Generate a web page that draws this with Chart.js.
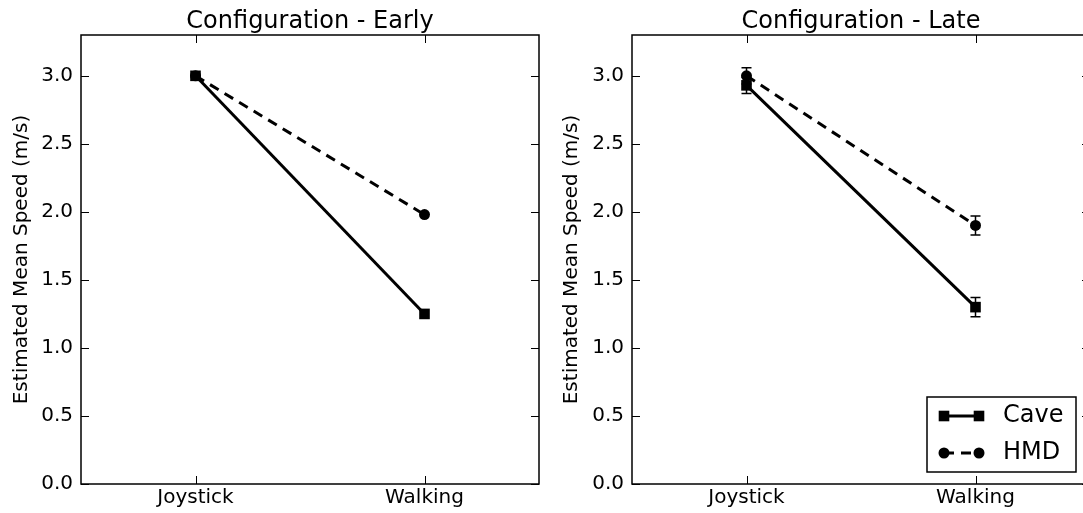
<!DOCTYPE html>
<html>
<head>
<meta charset="utf-8">
<script src="https://cdn.jsdelivr.net/npm/chart.js@4.4.0/dist/chart.umd.min.js"></script>
<style>
  html, body { margin: 0; padding: 0; background: #fff; overflow: hidden; width: 1083px; height: 513px; }
  .panel { position: absolute; top: 0; }
  #left { left: 0; }
  #right { left: 550px; }
</style>
</head>
<body>
<div class="panel" id="left"><canvas id="cEarly" width="560" height="513"></canvas></div>
<div class="panel" id="right"><canvas id="cLate" width="560" height="513"></canvas></div>
<script>
// categories + tick labels
const categories = ["Joystick", "Walking"];
const yTicks = [0, 0.5, 1.0, 1.5, 2.0, 2.5, 3.0];
const seriesNames = ["Cave", "HMD"];

// early config (no visible error bars)
const earlyCave = [3.00, 1.25];
const earlyHmd = [3.00, 1.98];

// late config
const lateCave = [2.93, 1.30];
const lateHmd = [3.00, 1.90];
const lateCaveErr = [0.06, 0.07];
const lateHmdErr = [0.06, 0.07];

Chart.defaults.font.family = "'DejaVu Sans', sans-serif";
Chart.defaults.color = "#000";

// error bars drawn through the scales
const errBars = {
  id: "errBars",
  afterDatasetsDraw(chart) {
    const { ctx, scales: { x, y } } = chart;
    ctx.save();
    ctx.strokeStyle = "#000";
    ctx.lineWidth = 1.5;
    chart.data.datasets.forEach(ds => {
      if (!ds.err) return;
      ds.data.forEach((p, i) => {
        const px = x.getPixelForValue(p.x);
        const top = y.getPixelForValue(p.y + ds.err[i]);
        const bot = y.getPixelForValue(p.y - ds.err[i]);
        ctx.beginPath();
        ctx.moveTo(px, top); ctx.lineTo(px, bot);
        ctx.moveTo(px - 5, top); ctx.lineTo(px + 5, top);
        ctx.moveTo(px - 5, bot); ctx.lineTo(px + 5, bot);
        ctx.stroke();
      });
    });
    ctx.restore();
  }
};

// box + inward ticks on all four sides (matplotlib classic look)
const frame = {
  id: "frame",
  afterDraw(chart) {
    const { ctx, chartArea: a, scales: { x, y } } = chart;
    const tl = 8;
    ctx.save();
    ctx.strokeStyle = "#000";
    ctx.lineWidth = 1.5;
    ctx.strokeRect(a.left, a.top, a.right - a.left, a.bottom - a.top);
    ctx.lineWidth = 1;
    ctx.beginPath();
    y.ticks.forEach(t => {
      const py = Math.round(y.getPixelForValue(t.value)) + 0.5;
      ctx.moveTo(a.left, py); ctx.lineTo(a.left + tl, py);
      ctx.moveTo(a.right, py); ctx.lineTo(a.right - tl, py);
    });
    x.ticks.forEach(t => {
      const px = Math.round(x.getPixelForValue(t.value)) + 0.5;
      ctx.moveTo(px, a.bottom); ctx.lineTo(px, a.bottom - tl);
      ctx.moveTo(px, a.top); ctx.lineTo(px, a.top + tl);
    });
    ctx.stroke();
    ctx.restore();
  }
};

function marker(ctx, style, r, cx, cy) {
  ctx.beginPath();
  if (style === "rect") {
    const s = r * Math.SQRT1_2;
    ctx.rect(cx - s, cy - s, 2 * s, 2 * s);
  } else {
    ctx.arc(cx, cy, r, 0, Math.PI * 2);
  }
  ctx.fill();
}

// legend box in lower right of the plot
const boxLegend = {
  id: "boxLegend",
  afterDraw(chart, args, opts) {
    if (!opts.show) return;
    const { ctx, chartArea: a } = chart;
    const w = 149, h = 75;
    const bx = a.right - 14 - w, by = a.bottom - 12 - h;
    ctx.save();
    ctx.fillStyle = "#fff";
    ctx.fillRect(bx, by, w, h);
    ctx.strokeStyle = "#000";
    ctx.lineWidth = 1.5;
    ctx.strokeRect(bx, by, w, h);
    chart.data.datasets.forEach((ds, i) => {
      const cy = by + 19 + i * 37;
      const x0 = bx + 17, x1 = bx + 52;
      ctx.strokeStyle = "#000";
      ctx.lineWidth = ds.borderWidth;
      ctx.setLineDash(ds.borderDash || []);
      ctx.beginPath(); ctx.moveTo(x0, cy); ctx.lineTo(x1, cy); ctx.stroke();
      ctx.setLineDash([]);
      ctx.fillStyle = "#000";
      marker(ctx, ds.pointStyle, ds.pointRadius, x0, cy);
      marker(ctx, ds.pointStyle, ds.pointRadius, x1, cy);
      ctx.font = "24px 'DejaVu Sans'";
      ctx.textBaseline = "middle";
      ctx.fillText(ds.label, bx + 76, cy);
    });
    ctx.restore();
  }
};

function makeChart(id, title, cave, hmd, caveErr, hmdErr, axisW, padRight, showLegend) {
  const toPts = arr => arr.map((v, i) => ({ x: i, y: v }));
  return new Chart(document.getElementById(id), {
    type: "line",
    data: {
      datasets: [
        { label: seriesNames[0], data: toPts(cave), err: caveErr,
          borderColor: "#000", backgroundColor: "#000", borderWidth: 3,
          pointStyle: "rect", pointRadius: 7.5, pointBorderWidth: 0, tension: 0 },
        { label: seriesNames[1], data: toPts(hmd), err: hmdErr,
          borderColor: "#000", backgroundColor: "#000", borderWidth: 3, borderDash: [10, 7],
          pointStyle: "circle", pointRadius: 5.5, pointBorderWidth: 0, tension: 0 }
      ]
    },
    options: {
      responsive: false,
      maintainAspectRatio: false,
      animation: false,
      layout: { padding: { left: 0, right: padRight, top: 0, bottom: 0 } },
      plugins: {
        legend: { display: false },
        tooltip: { enabled: false },
        title: { display: true, text: title, fullSize: false, color: "#000",
          font: { size: 24, weight: "normal", lineHeight: 1 }, padding: { top: 9.5, bottom: 1.5 } },
        boxLegend: { show: showLegend }
      },
      scales: {
        x: {
          type: "linear", min: -0.5, max: 1.5,
          afterBuildTicks: s => { s.ticks = categories.map((c, i) => ({ value: i })); },
          afterFit: s => { s.height = 29; },
          grid: { display: false, drawTicks: false },
          border: { display: false },
          ticks: { callback: v => categories[v], color: "#000", font: { size: 20 }, padding: 2, maxRotation: 0, autoSkip: false }
        },
        y: {
          min: 0, max: 3.3,
          afterBuildTicks: s => { s.ticks = yTicks.map(v => ({ value: v })); },
          afterFit: s => { s.width = axisW; },
          grid: { display: false, drawTicks: false },
          border: { display: false },
          ticks: { callback: v => v.toFixed(1), color: "#000", font: { size: 20 }, padding: 8 },
          title: { display: true, text: "Estimated Mean Speed (m/s)", color: "#000", font: { size: 20 }, padding: { top: 10, bottom: 0 } }
        }
      }
    },
    plugins: [errBars, frame, boxLegend]
  });
}

makeChart("cEarly", "Configuration - Early", earlyCave, earlyHmd, null, null, 81, 21, false);
makeChart("cLate", "Configuration - Late", lateCave, lateHmd, lateCaveErr, lateHmdErr, 82, 20, true);
</script>
</body>
</html>
